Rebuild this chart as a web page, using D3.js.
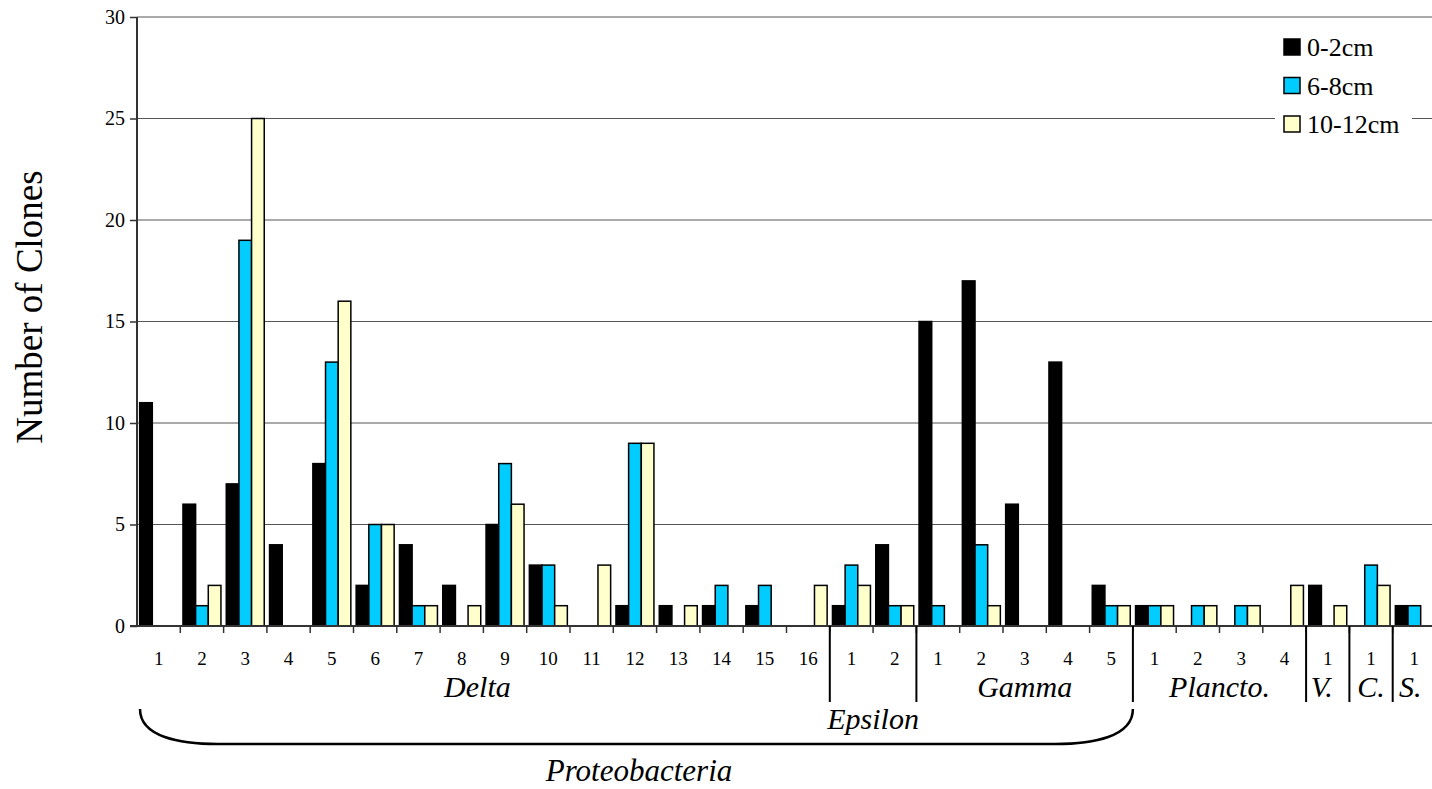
<!DOCTYPE html>
<html>
<head>
<meta charset="utf-8">
<script src="https://cdn.jsdelivr.net/npm/d3@7"></script>
<style>
  html, body { margin: 0; padding: 0; background: #fff; }
  svg { display: block; }
  svg text { font-family: 'Liberation Serif', 'DejaVu Serif', serif; }
</style>
</head>
<body>
<svg id="chart" width="1432" height="789"></svg>
<script>
// Clone counts per phylotype, grouped by taxon
const categories = ["1","2","3","4","5","6","7","8","9","10","11","12","13","14","15","16",
                    "1","2",
                    "1","2","3","4","5",
                    "1","2","3","4",
                    "1","1","1"];
const groupNames = ["Delta","Epsilon","Gamma","Plancto.","V.","C.","S."];
const groupSizes = [16, 2, 5, 4, 1, 1, 1];
const groupLabelRow = [0, 1, 0, 0, 0, 0, 0];
const series = ["0-2cm", "6-8cm", "10-12cm"];
const clones0to2   = [11,6,7,4,8,2,4,2,5,3,0,1,1,1,1,0, 1,4, 15,17,6,13,2, 1,0,0,0, 2,0,1];
const clones6to8   = [0,1,19,0,13,5,1,0,8,3,0,9,0,2,2,0, 3,1, 1,4,0,0,1, 1,1,1,0, 0,3,1];
const clones10to12 = [0,2,25,0,16,5,1,1,6,1,3,9,1,0,0,2, 2,1, 0,1,0,0,1, 1,1,1,2, 1,2,0];
const yTicks = [0, 5, 10, 15, 20, 25, 30];
const colors = ["#000000", "#00CCFF", "#FFFFCC"];

(function () {
  const FONT = "'Liberation Serif', 'DejaVu Serif', serif";
  const values = [clones0to2, clones6to8, clones10to12];
  const svg = d3.select("#chart").attr("font-family", FONT);

  const plotLeft = 137, plotRight = 1436, plotTop = 17, plotBottom = 626;
  const keys = categories.map((c, i) => i);

  const x = d3.scaleBand().domain(keys).range([plotLeft, plotRight]).paddingInner(0).paddingOuter(0);
  const xs = d3.scaleBand().domain(d3.range(series.length)).range([0, x.bandwidth()]).paddingOuter(0.21).paddingInner(0);
  const y = d3.scaleLinear().domain([0, 30]).range([plotBottom, plotTop]);

  // horizontal gridlines
  svg.append("g").selectAll("line").data(yTicks.filter(t => t > 0)).join("line")
    .attr("x1", plotLeft).attr("x2", 1432)
    .attr("y1", d => y(d)).attr("y2", d => y(d))
    .attr("stroke", "#555").attr("stroke-width", 1);

  // legend background (cuts the gridline behind it)
  svg.append("rect").attr("x", 1275).attr("y", 30).attr("width", 137).attr("height", 112).attr("fill", "#fff");

  // bars
  const barG = svg.append("g");
  keys.forEach(i => {
    series.forEach((s, j) => {
      const v = values[j][i];
      if (v <= 0) return;
      barG.append("rect")
        .attr("x", x(i) + xs(j))
        .attr("y", y(v))
        .attr("width", xs.bandwidth())
        .attr("height", y(0) - y(v))
        .attr("fill", colors[j])
        .attr("stroke", "#000")
        .attr("stroke-width", 1.5);
    });
  });

  // y axis
  const yAxis = d3.axisLeft(y).tickValues(yTicks).tickSize(7).tickPadding(5);
  const ya = svg.append("g").attr("transform", `translate(${plotLeft},0)`).call(yAxis)
    .attr("font-family", FONT).attr("font-size", 20);
  ya.select(".domain").attr("stroke", "#333").attr("stroke-width", 2).attr("d", `M0,${plotTop}V${plotBottom}`);
  ya.selectAll(".tick line").attr("stroke", "#333").attr("stroke-width", 1.5);
  ya.selectAll(".tick text").attr("fill", "#000");

  // x axis baseline and boundary ticks
  svg.append("line").attr("x1", plotLeft - 7).attr("x2", 1432).attr("y1", plotBottom).attr("y2", plotBottom)
    .attr("stroke", "#333").attr("stroke-width", 2);
  const boundaries = d3.range(1, categories.length);
  svg.append("g").selectAll("line").data(boundaries).join("line")
    .attr("x1", d => x(d)).attr("x2", d => x(d))
    .attr("y1", plotBottom).attr("y2", plotBottom + 7)
    .attr("stroke", "#333").attr("stroke-width", 1.5);

  // category labels
  svg.append("g").selectAll("text").data(keys).join("text")
    .attr("x", d => x(d) + x.bandwidth() / 2)
    .attr("y", 665)
    .attr("text-anchor", "middle")
    .attr("font-size", 19)
    .text(d => categories[d]);

  // group separators and labels
  let start = 0;
  const groupStarts = groupSizes.map(n => { const s = start; start += n; return s; });
  const sepG = svg.append("g");
  groupStarts.slice(1).forEach(s => {
    sepG.append("line").attr("x1", x(s)).attr("x2", x(s)).attr("y1", plotBottom).attr("y2", 702)
      .attr("stroke", "#000").attr("stroke-width", 2);
  });
  groupNames.forEach((g, k) => {
    const s = groupStarts[k];
    const e = s + groupSizes[k];
    const cx = (x(s) + (e < categories.length ? x(e) : plotRight)) / 2;
    svg.append("text")
      .attr("x", cx - (k === 0 ? 6 : 0) - (k === 4 ? 6 : 0) - (k === 6 ? 4 : 0))
      .attr("y", groupLabelRow[k] ? 729 : 697)
      .attr("text-anchor", "middle")
      .attr("font-style", "italic")
      .attr("font-size", 30)
      .text(g);
  });

  // Proteobacteria bracket spanning Delta, Epsilon and Gamma
  const bx0 = x(0) + 3, bx1 = x(groupStarts[3]);
  const bTop = 709, bBot = 744;
  svg.append("path")
    .attr("d", `M${bx0},${bTop} C${bx0},${bTop + 28} ${bx0 + 40},${bBot} ${bx0 + 78},${bBot}
                L${bx1 - 78},${bBot} C${bx1 - 40},${bBot} ${bx1},${bTop + 28} ${bx1},${bTop}`)
    .attr("fill", "none").attr("stroke", "#000").attr("stroke-width", 2.5);
  svg.append("text")
    .attr("x", 639).attr("y", 781)
    .attr("text-anchor", "middle")
    .attr("font-style", "italic")
    .attr("font-size", 31)
    .text("Proteobacteria");

  // y axis title
  svg.append("text")
    .attr("transform", "translate(42,307) rotate(-90)")
    .attr("text-anchor", "middle")
    .attr("font-size", 37)
    .text("Number of Clones");

  // legend
  const lg = svg.append("g");
  series.forEach((s, j) => {
    const by = 56 + j * 38.5;
    lg.append("rect").attr("x", 1284).attr("y", by - 17).attr("width", 16).attr("height", 16)
      .attr("fill", colors[j]).attr("stroke", "#000").attr("stroke-width", 1.5);
    lg.append("text").attr("x", 1307).attr("y", by).attr("font-size", 26).text(s);
  });
})();
</script>
</body>
</html>
